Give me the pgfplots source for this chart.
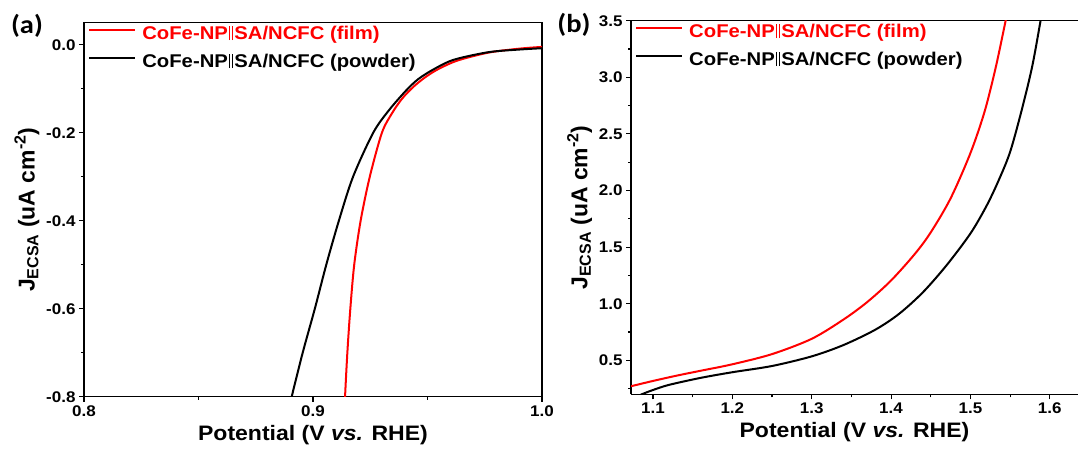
\documentclass[border=0pt]{standalone}
\usepackage{fontspec}
\setmainfont{Liberation Sans}[FakeStretch=1.1]
\newfontfamily\ylabfont{Liberation Sans}
\newfontfamily\panelfont{Carlito}[FakeStretch=1.1]
\usepackage{pgfplots}
\pgfplotsset{compat=1.18}
\newcommand{\dbar}{\kern0.07em\rule[-0.02em]{0.06em}{0.76em}\kern0.09em\rule[-0.02em]{0.06em}{0.76em}\kern0.07em}
\pgfplotsset{
  myaxis/.style={
    scale only axis,
    tick align=outside,
    tick pos=left,
    major tick length=5bp,
    minor tick length=3bp,
    every tick/.append style={black, line width=1.1bp},
    axis line style={line width=1.3bp},
    ticklabel style={font=\bfseries\fontsize{15.5}{15.5}\selectfont},
    /pgf/number format/fixed,
    /pgf/number format/fixed zerofill,
    /pgf/number format/precision=1,
    /pgf/number format/assume math mode=true,
    xlabel style={font=\bfseries\fontsize{21}{21}\selectfont, yshift=-2bp},
    ylabel style={font=\ylabfont\bfseries\fontsize{23}{23}\selectfont},
    xlabel={Potential (V \textit{vs.} RHE)},
    ylabel={J\textsubscript{ECSA} (uA cm\textsuperscript{-2})},
    legend cell align=left,
    legend style={draw=none, fill=none, at={(axis description cs:0.009,0.99)}, anchor=north west,
      font=\bfseries\fontsize{18.5}{18.5}\selectfont, row sep=11bp, column sep=6bp, inner sep=0pt,
      nodes={inner sep=0pt, text height=13bp, text depth=4bp}},
    legend image code/.code={\draw[#1] (0bp,5bp) -- (46bp,5bp);},
  },
}
\begin{document}
\begin{tikzpicture}
\path[use as bounding box] (0,0) rectangle (1078bp,453bp);
\begin{axis}[myaxis,
  at={(84bp,56.3bp)}, anchor=south west,
  width=458bp, height=374bp,
  xmin=0.8, xmax=1.0, ymin=-0.8, ymax=0.05,
  xtick={0.8,0.9,1.0}, minor xtick={0.85,0.95},
  ytick={-0.8,-0.6,-0.4,-0.2,0}, minor ytick={-0.7,-0.5,-0.3,-0.1},
]
\addplot[red, line width=2bp, smooth, tension=0.5] coordinates {
(0.9139,-0.83) (0.9140,-0.80) (0.9150,-0.70) (0.9163,-0.60) (0.9180,-0.50)
(0.9208,-0.40) (0.9248,-0.30) (0.9301,-0.20) (0.9346,-0.155) (0.9390,-0.122)
(0.9440,-0.095) (0.9490,-0.074) (0.9545,-0.056) (0.9631,-0.036) (0.9766,-0.018)
(0.9900,-0.009) (1.0000,-0.005)
};
\addlegendentry{\textcolor{red}{CoFe-NP\dbar SA/NCFC (film)}}
\addplot[black, line width=2bp, smooth, tension=0.5] coordinates {
(0.8895,-0.83) (0.8907,-0.80) (0.8955,-0.70) (0.9008,-0.60) (0.9058,-0.50)
(0.9113,-0.40) (0.9175,-0.30) (0.9263,-0.20) (0.9330,-0.15) (0.9405,-0.105)
(0.9460,-0.078) (0.9530,-0.055) (0.9616,-0.034) (0.9766,-0.017) (0.9900,-0.011)
(1.0000,-0.008)
};
\addlegendentry{CoFe-NP\dbar SA/NCFC (powder)}
\end{axis}
\begin{axis}[myaxis,
  at={(631bp,58.7bp)}, anchor=south west,
  width=447bp, height=373.6bp,
  axis x line*=bottom, axis y line*=left, axis line style={-, line width=1.3bp},
  tick align=outside,
  xmin=1.0723, xmax=1.6356, ymin=0.2, ymax=3.5,
  xtick={1.1,1.2,1.3,1.4,1.5,1.6}, minor xtick={1.15,1.25,1.35,1.45,1.55},
  ytick={0.5,1.0,1.5,2.0,2.5,3.0,3.5}, minor ytick={0.25,0.75,1.25,1.75,2.25,2.75,3.25},
]
\draw[line width=1.3bp] (rel axis cs:0,1) -- (rel axis cs:1,1);
\addplot[red, line width=2bp, smooth, tension=0.5] coordinates {
(1.060,0.255) (1.0714,0.270) (1.100,0.318) (1.130,0.365) (1.160,0.408)
(1.200,0.465) (1.250,0.555) (1.300,0.690) (1.340,0.860) (1.370,1.015)
(1.400,1.205) (1.430,1.440) (1.450,1.630) (1.475,1.930) (1.500,2.330)
(1.518,2.700) (1.532,3.090) (1.5444,3.500) (1.548,3.62)
};
\addlegendentry{\textcolor{red}{CoFe-NP\dbar SA/NCFC (film)}}
\addplot[black, line width=2bp, smooth, tension=0.5] coordinates {
(1.080,0.18) (1.0859,0.20) (1.100,0.238) (1.120,0.283) (1.160,0.345)
(1.200,0.395) (1.250,0.450) (1.300,0.535) (1.340,0.635) (1.380,0.770)
(1.410,0.910) (1.440,1.100) (1.470,1.340) (1.500,1.620) (1.520,1.860)
(1.535,2.080) (1.550,2.340) (1.565,2.720) (1.578,3.100) (1.5884,3.500)
(1.592,3.65)
};
\addlegendentry{CoFe-NP\dbar SA/NCFC (powder)}
\end{axis}
\node[font=\panelfont\bfseries\fontsize{26}{26}\selectfont] at (27bp,427bp) {(a)};
\node[font=\panelfont\bfseries\fontsize{26}{26}\selectfont] at (574bp,428bp) {(b)};
\end{tikzpicture}
\end{document}
